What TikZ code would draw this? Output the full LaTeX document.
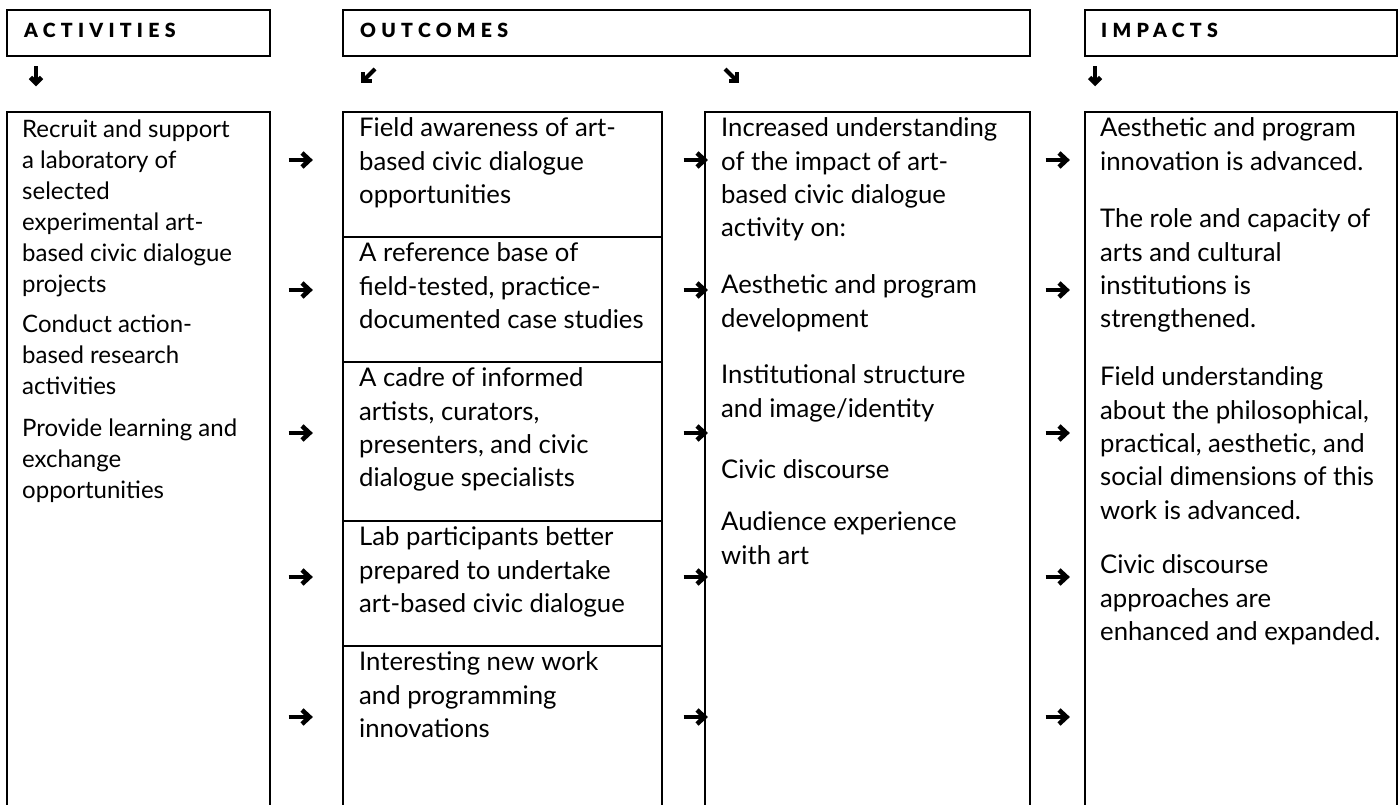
\documentclass[tikz,border=0pt]{standalone}
\usepackage{fontspec}
\setmainfont{Lato}
\newfontfamily\hdfont[LetterSpace=27]{Lato Black}
\tikzset{
  x=1pt, y=-1pt,
  frame/.style={draw=black, line width=1.6pt},
  bodytext/.style={anchor=north west, inner sep=0pt, align=left,
    font=\fontsize{25.7}{33.4}\selectfont, yshift=23.38pt, execute at begin node=\strut},
  acttext/.style={anchor=north west, inner sep=0pt, align=left,
    font=\fontsize{24}{31}\selectfont, yshift=21.7pt, execute at begin node=\strut},
  headtext/.style={anchor=base west, inner sep=0pt, font=\fontsize{19.5}{22}\hdfont},
  rarr/.pic={
    \draw[line width=4.2pt] (-12.5,0) -- (6,0);
    \draw[line width=4.6pt, line join=miter, miter limit=10] (1,-7) -- (8.5,0) -- (1,7);
  },
  darr/.pic={
    \draw[line width=4.2pt] (0,-9.5) -- (0,5);
    \draw[line width=4.6pt, line join=miter, miter limit=10] (-5.5,1.5) -- (0,7) -- (5.5,1.5);
  },
  dlarr/.pic={
    \draw[line width=4.2pt] (7,-7) -- (-3,3);
    \draw[line width=4.8pt, line join=miter, miter limit=10] (-5,-3.5) -- (-5,5) -- (3.5,5);
  },
  drarr/.pic={
    \draw[line width=4.2pt] (-7,-7) -- (3,3);
    \draw[line width=4.8pt, line join=miter, miter limit=10] (5,-3.5) -- (5,5) -- (-3.5,5);
  }
}
\begin{document}
\begin{tikzpicture}
\useasboundingbox (0,0) rectangle (1399,805);
\fill[white] (0,0) rectangle (1399,805);
% header boxes
\draw[frame] (7,10) rectangle (270,56);
\draw[frame] (343,10) rectangle (1030,56);
\draw[frame] (1085,10) rectangle (1397,56);
\node[headtext] (hact) at (24,38) {ACTIVITIES};
\node[headtext] (hout) at (360,38) {OUTCOMES};
\node[headtext] (himp) at (1101,38) {IMPACTS};
% header arrows
\pic at (36,76) {darr};
\pic at (368,76) {dlarr};
\pic at (732,76) {drarr};
\pic at (1095,76) {darr};
% main boxes (open at bottom)
\draw[frame] (7,812) -- (7,112) -- (270,112) -- (270,812);
\draw[frame] (343,812) -- (343,112) -- (662,112) -- (662,812);
\draw[frame] (343,237) -- (662,237);
\draw[frame] (343,362) -- (662,362);
\draw[frame] (343,521) -- (662,521);
\draw[frame] (343,646) -- (662,646);
\draw[frame] (705,812) -- (705,112) -- (1030,112) -- (1030,812);
\draw[frame] (1085,812) -- (1085,112) -- (1397,112) -- (1397,812);
% activities
\node[acttext] (a1) at (22,141) {Recruit and support\\a laboratory of\\selected\\experimental art-\\based civic dialogue\\projects};
\node[acttext] (a2) at (22,336) {Conduct action-\\based research\\activities};
\node[acttext] (a3) at (22,440) {Provide learning and\\exchange\\opportunities};
% outcomes left
\node[bodytext] (o1) at (359,141) {Field awareness of art-\\based civic dialogue\\opportunities};
\node[bodytext] (o2) at (359,266) {A reference base of\\field-tested, practice-\\documented case studies};
\node[bodytext] (o3) at (359,391) {A cadre of informed\\artists, curators,\\presenters, and civic\\dialogue specialists};
\node[bodytext] (o4) at (359,550) {Lab participants better\\prepared to undertake\\art-based civic dialogue};
\node[bodytext] (o5) at (359,675) {Interesting new work\\and programming\\innovations};
% outcomes middle
\node[bodytext] (m1) at (721,141) {Increased understanding\\of the impact of art-\\based civic dialogue\\activity on:};
\node[bodytext] (m2) at (721,298) {Aesthetic and program\\development};
\node[bodytext] (m3) at (721,388) {Institutional structure\\and image/identity};
\node[bodytext] (m4) at (721,478) {Civic discourse};
\node[bodytext] (m5) at (721,535) {Audience experience\\with art};
% impacts
\node[bodytext] (i1) at (1100,141) {Aesthetic and program\\innovation is advanced.};
\node[bodytext] (i2) at (1100,232) {The role and capacity of\\arts and cultural\\institutions is\\strengthened.};
\node[bodytext] (i3) at (1100,390) {Field understanding\\about the philosophical,\\practical, aesthetic, and\\social dimensions of this\\work is advanced.};
\node[bodytext] (i4) at (1100,578) {Civic discourse\\approaches are\\enhanced and expanded.};
% row arrows
\foreach \y in {160,290,433,577,717}{
  \pic at (301,\y) {rarr};
  \pic at (696,\y) {rarr};
  \pic at (1058,\y) {rarr};
}
\end{tikzpicture}
\end{document}
